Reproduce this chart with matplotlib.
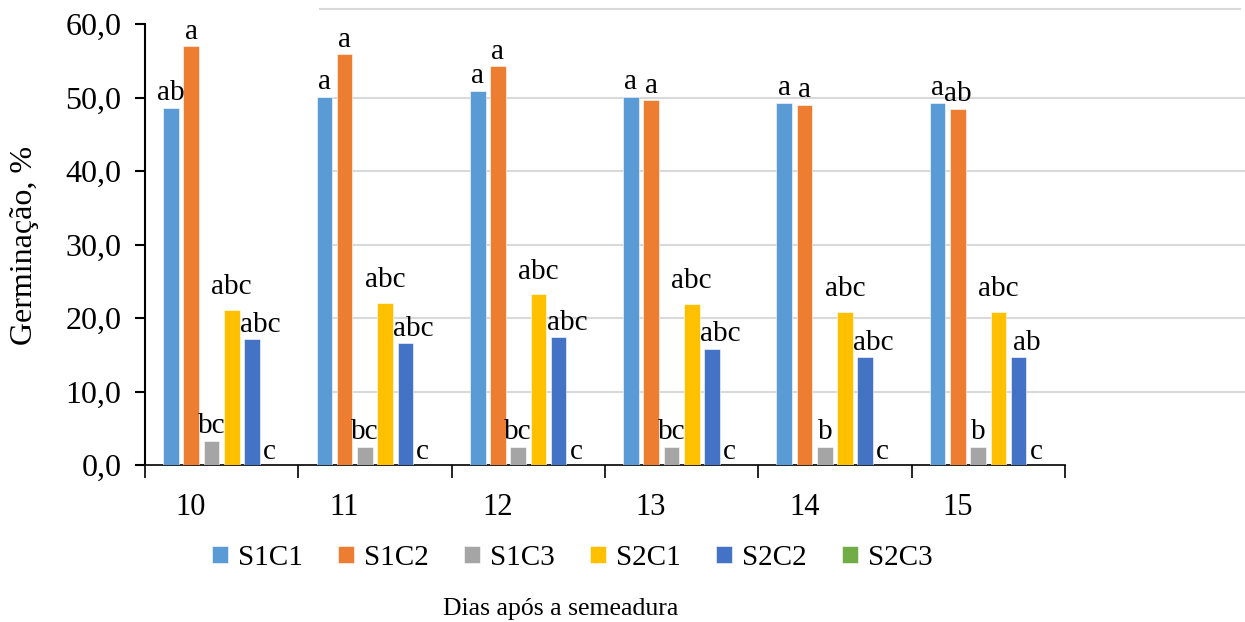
import matplotlib.pyplot as plt
import numpy as np
from matplotlib.lines import Line2D

plt.rcParams['font.family'] = ['Liberation Serif', 'DejaVu Serif']

dias = ['10', '11', '12', '13', '14', '15']
series = ['S1C1', 'S1C2', 'S1C3', 'S2C1', 'S2C2', 'S2C3']
colors = ['#5B9BD5', '#ED7D31', '#A5A5A5', '#FFC000', '#4472C4', '#70AD47']

s1c1 = [48.6, 50.1, 50.9, 50.1, 49.3, 49.3]
s1c2 = [57.0, 55.9, 54.3, 49.6, 49.0, 48.5]
s1c3 = [3.3, 2.5, 2.5, 2.5, 2.5, 2.5]
s2c1 = [21.1, 22.1, 23.2, 21.9, 20.8, 20.8]
s2c2 = [17.1, 16.6, 17.4, 15.8, 14.7, 14.7]
s2c3 = [0.0, 0.0, 0.0, 0.0, 0.0, 0.0]
values = [s1c1, s1c2, s1c3, s2c1, s2c2, s2c3]

letras_s1c1 = ['ab', 'a', 'a', 'a', 'a', 'a']
letras_s1c2 = ['a', 'a', 'a', 'a', 'a', 'ab']
letras_s1c3 = ['bc', 'bc', 'bc', 'bc', 'b', 'b']
letras_s2c1 = ['abc', 'abc', 'abc', 'abc', 'abc', 'abc']
letras_s2c2 = ['abc', 'abc', 'abc', 'abc', 'abc', 'ab']
letras_s2c3 = ['c', 'c', 'c', 'c', 'c', 'c']
letras = [letras_s1c1, letras_s1c2, letras_s1c3, letras_s2c1, letras_s2c2, letras_s2c3]

# label nudges (points) per series, like the hand-moved labels in excel
nudge_x = [0, 0, 0, 0, 6, -2]
nudge_y = [1, 1, 1, 7, 1, 0]

fig = plt.figure(figsize=(12.45, 6.22), dpi=100)
ax = fig.add_axes([145/1245, 1-465/622, 1100/1245, (465-24)/622])

x = np.arange(len(dias))
step = 0.132
width = 0.102
for i in range(len(series)):
    pos = x + (i - 2.5) * step
    ax.bar(pos, values[i], width, color=colors[i], label=series[i], zorder=3,
           edgecolor='white', linewidth=0.4)
    for j in range(len(dias)):
        ax.annotate(letras[i][j], (pos[j], values[i][j]),
                    xytext=(nudge_x[i], nudge_y[i]), textcoords='offset points',
                    ha='center', va='bottom', fontsize=21, zorder=4)

ax.set_xlim(-0.5, 6.675)
ax.set_ylim(0, 60)

# gridlines (start after first group like the original)
for g in range(10, 60, 10):
    ax.plot([0.726, 6.675], [g, g], color='#d9d9d9', lw=1.5, zorder=1, clip_on=False)
fig.add_artist(Line2D([320/1245, 1240/1245], [1-9/622, 1-9/622], color='#d9d9d9', lw=1.5))

for s in ['top', 'right']:
    ax.spines[s].set_visible(False)
ax.spines['bottom'].set_bounds(-0.5, 5.5)
ax.spines['left'].set_linewidth(1.5)
ax.spines['bottom'].set_linewidth(1.2)

ax.set_yticks(range(0, 61, 10))
ax.set_yticklabels([f'{v},0' for v in range(0, 61, 10)], fontsize=23)
ax.tick_params(axis='y', length=7, width=1.5, pad=10)

ax.set_xticks(np.arange(-0.5, 6.0, 1.0))
ax.set_xticklabels([])
ax.set_xticks(x - 0.2, minor=True)
ax.set_xticklabels(dias, minor=True, fontsize=22)
ax.tick_params(axis='x', which='major', length=9, width=1.2)
ax.tick_params(axis='x', which='minor', length=0, pad=20)

fig.text(25/1245, 1-245/622, 'Germinação, %', rotation=90, ha='center', va='center', fontsize=23)

fig.legend(loc='center', bbox_to_anchor=(572/1245, 1-558/622), ncol=6,
           frameon=False, fontsize=21, handlelength=0.55, handleheight=0.55,
           handletextpad=0.35, columnspacing=1.2)
fig.text(561/1245, 1-609/622, 'Dias após a semeadura', ha='center', va='center', fontsize=18.5)

fig.savefig('out.png', dpi=100)
